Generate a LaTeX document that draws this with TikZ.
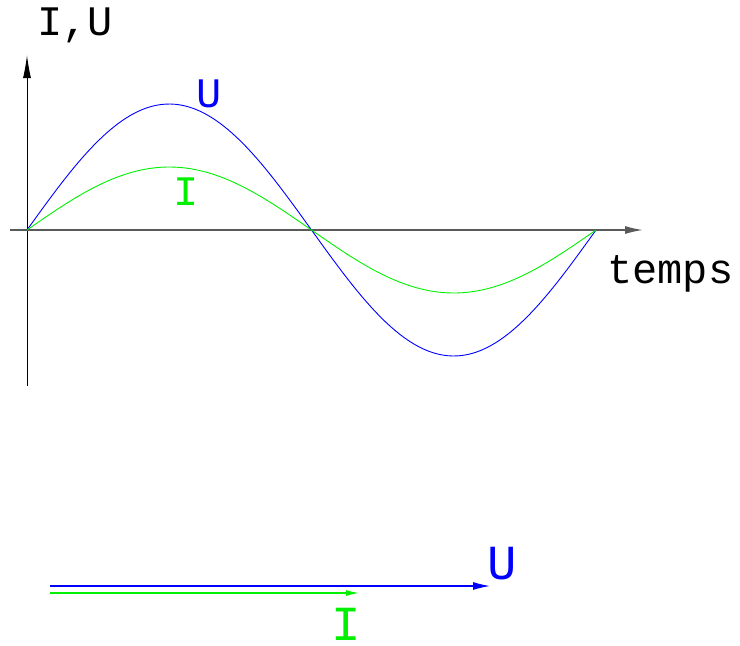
\documentclass[tikz,border=0pt]{standalone}
\usepackage{fontspec}
\setmainfont{Liberation Mono}
\usetikzlibrary{arrows.meta}
\definecolor{ublue}{RGB}{0,0,255}
\definecolor{igreen}{RGB}{0,240,0}
\definecolor{axgray}{RGB}{90,90,90}
\tikzset{
  lbl/.style={inner sep=0pt, font=\fontsize{42}{42}\selectfont},
  biglbl/.style={inner sep=0pt, font=\fontsize{49}{49}\selectfont},
  curve/.style={line width=0.9pt},
}
\begin{document}
\begin{tikzpicture}[x=1pt,y=-1pt]
\useasboundingbox (0,0) rectangle (740,646);
% axes
\coordinate (ybot) at (27,386);
\coordinate (ytop) at (27,55);
\coordinate (xl) at (10,230);
\coordinate (xr) at (643,230);
\draw[line width=1pt, -{Latex[length=23pt,width=8pt]}] (ybot) -- (ytop);
\draw[axgray, line width=1.4pt, -{Latex[length=18pt,width=8pt]}] (xl) -- (xr);
% curves
\draw[ublue, curve] plot[domain=0:360, samples=120] ({27+1.58056*\x},{230-126*sin(\x)});
\draw[igreen, curve] plot[domain=0:360, samples=120] ({27+1.58056*\x},{230-63*sin(\x)});
% labels
\node[lbl, anchor=base west] (iu) at (37,35) {I,U};
\node[lbl, anchor=base west] (temps) at (607,283) {temps};
\node[lbl, ublue, anchor=base] (ulab) at (209,107) {U};
\node[lbl, igreen, anchor=base] (ilab) at (186,205) {I};
% phasors
\coordinate (o1) at (50,586);
\coordinate (u1) at (490,586);
\coordinate (o2) at (50,593);
\coordinate (i2) at (359,593);
\draw[ublue, line width=1.2pt, -{Latex[length=17pt,width=8pt]}] (o1) -- (u1);
\draw[igreen, line width=1.2pt, -{Latex[length=13pt,width=6pt]}] (o2) -- (i2);
\node[biglbl, ublue, anchor=base] (ub) at (502,579) {U};
\node[biglbl, igreen, anchor=base] (ib) at (346,640) {I};
\end{tikzpicture}
\end{document}
